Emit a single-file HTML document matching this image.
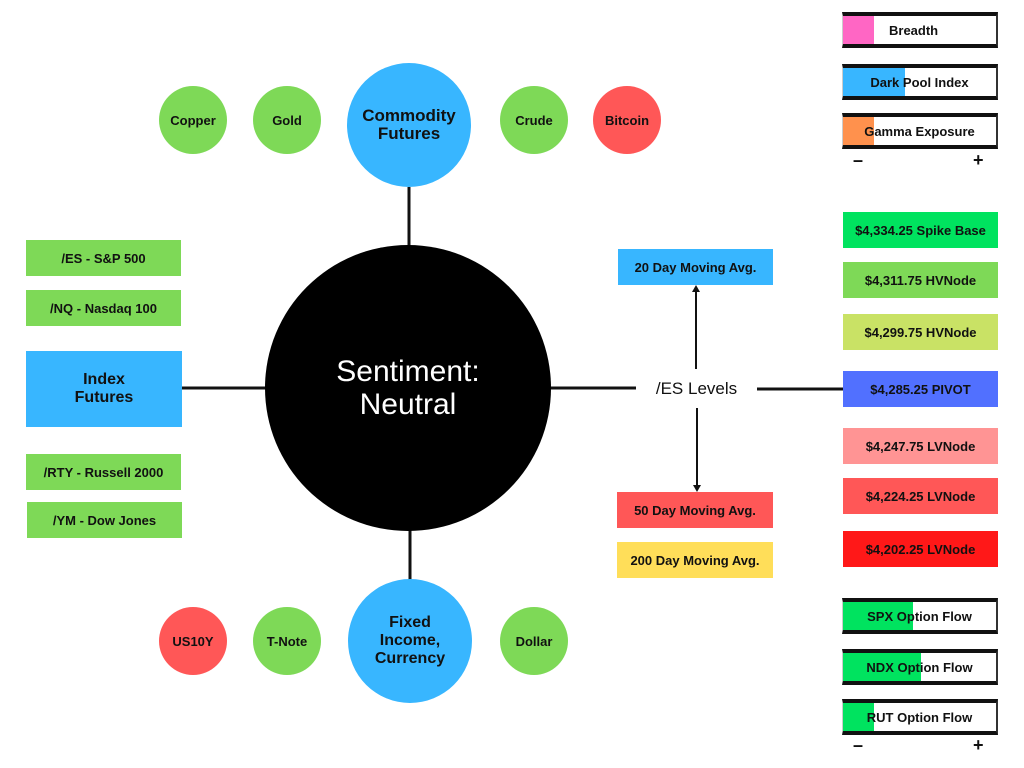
<!DOCTYPE html>
<html><head><style>
body{margin:0;width:1024px;height:768px;background:#fff;position:relative;overflow:hidden;font-family:"Liberation Sans",sans-serif;font-weight:bold;}
.b{position:absolute;display:flex;align-items:center;justify-content:center;text-align:center;font-size:13px;color:#111;box-sizing:border-box;}
.c{position:absolute;border-radius:50%;display:flex;align-items:center;justify-content:center;text-align:center;font-size:13px;color:#111;}
.bar{position:absolute;left:842px;width:156px;height:36px;box-sizing:border-box;border-top:4px solid #111;border-bottom:4px solid #111;border-left:1px solid #ccc;border-right:2px solid #333;}
.bar .f{position:absolute;left:0;top:0;bottom:0;}
.bar span{position:absolute;left:0;right:0;top:0;bottom:0;display:flex;align-items:center;justify-content:center;font-size:13px;color:#111;}
.pm{position:absolute;font-size:18px;font-weight:bold;color:#111;line-height:1;}
</style></head><body>
<svg width="1024" height="768" style="position:absolute;left:0;top:0">
<g stroke="#111" stroke-width="3">
<line x1="409" y1="187" x2="409" y2="246"/>
<line x1="410" y1="530" x2="410" y2="580"/>
<line x1="182" y1="388" x2="266" y2="388"/>
<line x1="550" y1="388" x2="636" y2="388"/>
<line x1="757" y1="389" x2="843" y2="389"/>
</g>
<g stroke="#111" stroke-width="2">
<line x1="696" y1="369" x2="696" y2="290"/>
<line x1="697" y1="408" x2="697" y2="487"/>
</g>
<polygon points="696,285 692,292 700,292" fill="#111"/>
<polygon points="697,492 693,485 701,485" fill="#111"/>
</svg>
<div class="c" style="left:265px;top:245px;width:286px;height:286px;background:#000;color:#fff;font-weight:normal;font-size:30px;line-height:33px">Sentiment:<br>Neutral</div>
<div class="c" style="left:347px;top:63px;width:124px;height:124px;background:#38b6ff;font-size:17px;line-height:18px">Commodity<br>Futures</div>
<div class="c" style="left:348px;top:579px;width:124px;height:124px;background:#38b6ff;font-size:16px;line-height:18px">Fixed<br>Income,<br>Currency</div>
<div class="c" style="left:159px;top:86px;width:68px;height:68px;background:#7ed957">Copper</div>
<div class="c" style="left:253px;top:86px;width:68px;height:68px;background:#7ed957">Gold</div>
<div class="c" style="left:500px;top:86px;width:68px;height:68px;background:#7ed957">Crude</div>
<div class="c" style="left:593px;top:86px;width:68px;height:68px;background:#ff5757">Bitcoin</div>
<div class="c" style="left:159px;top:607px;width:68px;height:68px;background:#ff5757">US10Y</div>
<div class="c" style="left:253px;top:607px;width:68px;height:68px;background:#7ed957">T-Note</div>
<div class="c" style="left:500px;top:607px;width:68px;height:68px;background:#7ed957">Dollar</div>
<div class="b" style="left:26px;top:240px;width:155px;height:36px;background:#7ed957">/ES - S&amp;P 500</div>
<div class="b" style="left:26px;top:290px;width:155px;height:36px;background:#7ed957">/NQ - Nasdaq 100</div>
<div class="b" style="left:26px;top:351px;width:156px;height:76px;background:#38b6ff;font-size:16px;line-height:18px">Index<br>Futures</div>
<div class="b" style="left:26px;top:454px;width:155px;height:36px;background:#7ed957">/RTY - Russell 2000</div>
<div class="b" style="left:27px;top:502px;width:155px;height:36px;background:#7ed957">/YM - Dow Jones</div>
<div class="b" style="left:636px;top:372px;width:121px;height:34px;font-weight:normal;font-size:17px">/ES Levels</div>
<div class="b" style="left:618px;top:249px;width:155px;height:36px;background:#38b6ff">20 Day Moving Avg.</div>
<div class="b" style="left:617px;top:492px;width:156px;height:36px;background:#ff5757">50 Day Moving Avg.</div>
<div class="b" style="left:617px;top:542px;width:156px;height:36px;background:#ffde59">200 Day Moving Avg.</div>
<div class="b" style="left:843px;top:212px;width:155px;height:36px;background:#00e35f">$4,334.25 Spike Base</div>
<div class="b" style="left:843px;top:262px;width:155px;height:36px;background:#7ed957">$4,311.75 HVNode</div>
<div class="b" style="left:843px;top:314px;width:155px;height:36px;background:#c9e265">$4,299.75 HVNode</div>
<div class="b" style="left:843px;top:371px;width:155px;height:36px;background:#5170ff">$4,285.25 PIVOT</div>
<div class="b" style="left:843px;top:428px;width:155px;height:36px;background:#ff9494">$4,247.75 LVNode</div>
<div class="b" style="left:843px;top:478px;width:155px;height:36px;background:#ff5757">$4,224.25 LVNode</div>
<div class="b" style="left:843px;top:531px;width:155px;height:36px;background:#ff1818">$4,202.25 LVNode</div>
<div class="bar" style="top:12px"><div class="f" style="width:31px;background:#ff66c4"></div><span style="padding-left:46px;justify-content:flex-start;left:0">Breadth</span></div>
<div class="bar" style="top:64px"><div class="f" style="width:62px;background:#38b6ff"></div><span>Dark Pool Index</span></div>
<div class="bar" style="top:113px"><div class="f" style="width:31px;background:#ff914d"></div><span>Gamma Exposure</span></div>
<div class="pm" style="left:853px;top:151px">–</div><div class="pm" style="left:973px;top:151px">+</div>
<div class="bar" style="top:598px"><div class="f" style="width:70px;background:#00e35f"></div><span>SPX Option Flow</span></div>
<div class="bar" style="top:649px"><div class="f" style="width:78px;background:#00e35f"></div><span>NDX Option Flow</span></div>
<div class="bar" style="top:699px"><div class="f" style="width:31px;background:#00e35f"></div><span>RUT Option Flow</span></div>
<div class="pm" style="left:853px;top:736px">–</div><div class="pm" style="left:973px;top:736px">+</div>
</body></html>
